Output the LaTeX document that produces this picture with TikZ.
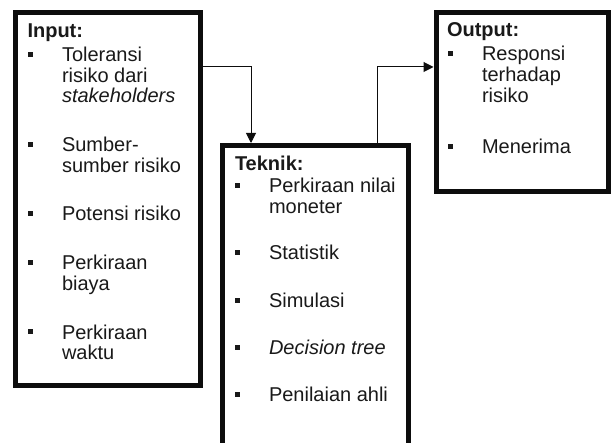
\documentclass[tikz,border=0pt]{standalone}
\usepackage{fontspec}
\setmainfont{Liberation Sans}
\usetikzlibrary{arrows.meta}
\begin{document}
\begin{tikzpicture}[x=1pt,y=-1pt,
  box/.style={draw=black!95, line width=5pt, inner sep=0pt, outer sep=0pt},
  txt/.style={anchor=base west, inner sep=0pt, outer sep=0pt, font=\fontsize{20}{21}\selectfont, text=black!90},
  ttl/.style={txt, font=\fontsize{20}{21}\selectfont\bfseries},
  bul/.style={fill=black!90, inner sep=0pt, outer sep=0pt, minimum size=5pt},
  conn/.style={line width=1pt, draw=black!95, -{Triangle[width=10pt,length=10pt]}, shorten >=2.5pt}]
\useasboundingbox (0,0) rectangle (611,443);
\begin{scope}
\clip (0,0) rectangle (611,443);
% boxes
\node[box, minimum width=185pt, minimum height=373pt] (in) at (107.5,199.5) {};
\node[box, minimum width=185.5pt, minimum height=324.5pt] (tek) at (315.25,307.75) {};
\node[box, minimum width=172.5pt, minimum height=179pt] (out) at (522.25,102) {};
\end{scope}
% connectors
\coordinate (k1) at (251,67);
\coordinate (k2) at (377,67);
\draw[conn] (in.east |- k1) -| (tek.north -| k1);
\draw[conn] (tek.north -| k2) |- (out.west |- k2);
% Input
\node[ttl] (inT) at (27.5,38) {Input:};
\node[bul] (inb1) at (30.5,54.5) {};
\node[txt] (in1a) at (62,62) {Toleransi};
\node[txt] (in1b) at (62,82.5) {risiko dari};
\node[txt] (in1c) at (62,103) {\itshape stakeholders};
\node[bul] (inb2) at (30.5,144.5) {};
\node[txt] (in2a) at (62,152) {Sumber-};
\node[txt] (in2b) at (62,172.5) {sumber risiko};
\node[bul] (inb3) at (30.5,213.5) {};
\node[txt] (in3a) at (62,221) {Potensi risiko};
\node[bul] (inb4) at (30.5,262.5) {};
\node[txt] (in4a) at (62,270) {Perkiraan};
\node[txt] (in4b) at (62,291) {biaya};
\node[bul] (inb5) at (30.5,332) {};
\node[txt] (in5a) at (62,339.5) {Perkiraan};
\node[txt] (in5b) at (62,360) {waktu};
% Teknik
\node[ttl] (tkT) at (235,170.5) {Teknik:};
\node[bul] (tkb1) at (237.5,185.5) {};
\node[txt] (tk1a) at (269,193) {Perkiraan nilai};
\node[txt] (tk1b) at (269,214) {moneter};
\node[bul] (tkb2) at (237.5,252.5) {};
\node[txt] (tk2) at (269,260) {Statistik};
\node[bul] (tkb3) at (237.5,300.5) {};
\node[txt] (tk3) at (269,308) {Simulasi};
\node[bul] (tkb4) at (237.5,347.5) {};
\node[txt] (tk4) at (269,355) {\itshape Decision tree};
\node[bul] (tkb5) at (237.5,394.5) {};
\node[txt] (tk5) at (269,402) {Penilaian ahli};
% Output
\node[ttl] (otT) at (447,37) {Output:};
\node[bul] (otb1) at (450.5,53.5) {};
\node[txt] (ot1a) at (482,61) {Responsi};
\node[txt] (ot1b) at (482,82) {terhadap};
\node[txt] (ot1c) at (482,103) {risiko};
\node[bul] (otb2) at (450.5,146.5) {};
\node[txt] (ot2) at (482,154) {Menerima};
\end{tikzpicture}
\end{document}
